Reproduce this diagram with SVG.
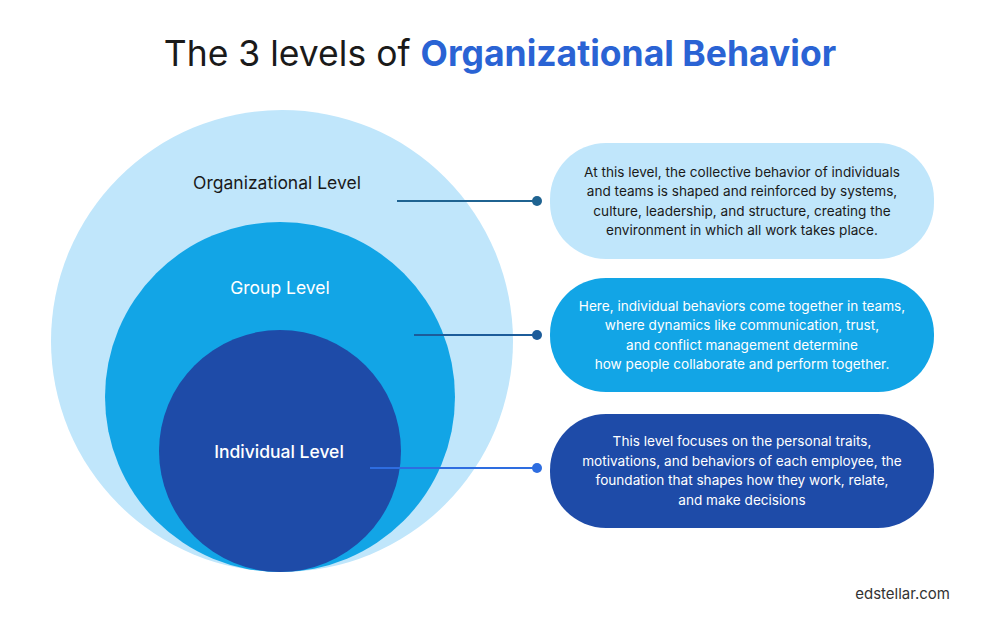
<svg xmlns="http://www.w3.org/2000/svg" width="1000" height="631" viewBox="0 0 1000 631">
<style>
text{font-family:Inter,"Open Sans","Liberation Sans",sans-serif}
.lbl{font-size:17.5px;text-anchor:middle}
.bt{font-size:13.6px;text-anchor:middle}
</style>
<rect width="1000" height="631" fill="#fff"/>
<text x="500" y="66" font-size="35.5" text-anchor="middle" fill="#1a1a1a">The 3 levels of <tspan font-weight="700" fill="#2a63d4">Organizational Behavior</tspan></text>
<g id="org"><circle cx="282" cy="341" r="231" fill="#c0e6fb"/><text class="lbl" x="277" y="189" fill="#1a1a1a">Organizational Level</text></g>
<g id="group"><circle cx="280" cy="397" r="175" fill="#12a5e6"/><text class="lbl" x="280" y="294" fill="#fff">Group Level</text></g>
<g id="individual"><circle cx="280" cy="451" r="121" fill="#1e4ba8"/><text class="lbl" x="279" y="458" fill="#fff" font-weight="500">Individual Level</text></g>
<g id="connectors" stroke-width="2">
<line x1="397" y1="201" x2="537" y2="201" stroke="#1f6391"/><circle cx="537" cy="201" r="5" fill="#1f6391"/>
<line x1="414" y1="335" x2="537" y2="335" stroke="#1c5c9a"/><circle cx="537" cy="335" r="5" fill="#1c5c9a"/>
<line x1="370" y1="468" x2="537" y2="468" stroke="#2e6de0"/><circle cx="537" cy="468" r="5" fill="#2e6de0"/>
</g>
<g id="box1"><rect x="550" y="143" width="384" height="116" rx="56" fill="#c0e6fb"/>
<text class="bt" fill="#1a1a1a"><tspan x="742" y="177">At this level, the collective behavior of individuals</tspan><tspan x="742" y="196">and teams is shaped and reinforced by systems,</tspan><tspan x="742" y="216">culture, leadership, and structure, creating the</tspan><tspan x="742" y="235">environment in which all work takes place.</tspan></text></g>
<g id="box2"><rect x="550" y="278" width="384" height="114" rx="56" fill="#12a5e6"/>
<text class="bt" fill="#fff"><tspan x="742" y="311">Here, individual behaviors come together in teams,</tspan><tspan x="742" y="330">where dynamics like communication, trust,</tspan><tspan x="742" y="350">and conflict management determine</tspan><tspan x="742" y="369">how people collaborate and perform together.</tspan></text></g>
<g id="box3"><rect x="550" y="414" width="384" height="114" rx="56" fill="#1e4ba8"/>
<text class="bt" fill="#fff"><tspan x="742" y="446">This level focuses on the personal traits,</tspan><tspan x="742" y="466">motivations, and behaviors of each employee, the</tspan><tspan x="742" y="485">foundation that shapes how they work, relate,</tspan><tspan x="742" y="505">and make decisions</tspan></text></g>
<text x="950" y="599" font-size="15" text-anchor="end" fill="#333">edstellar.com</text>
</svg>
